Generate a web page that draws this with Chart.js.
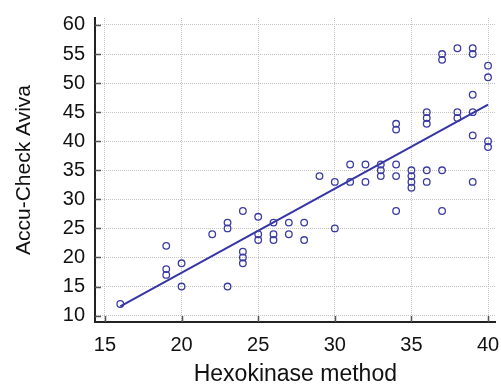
<!DOCTYPE html>
<html>
<head>
<meta charset="utf-8">
<script src="https://cdn.jsdelivr.net/npm/chart.js@4.4.0/dist/chart.umd.min.js"></script>
<style>
  html, body { margin: 0; padding: 0; background: #ffffff; }
  #wrap { width: 501px; height: 388px; position: relative; }
</style>
</head>
<body>
<div id="wrap"><canvas id="c" width="501" height="388"></canvas></div>
<script>
// Hexokinase method (x) vs Accu-Check Aviva (y)
const hexokinase = [
  16,
  19, 19, 19,
  20, 20,
  22,
  23, 23, 23,
  24, 24, 24, 24,
  25, 25, 25,
  26, 26, 26,
  27, 27,
  28, 28,
  29,
  30, 30,
  31, 31,
  32, 32,
  33, 33, 33,
  34, 34, 34, 34, 34,
  35, 35, 35, 35,
  36, 36, 36, 36, 36,
  37, 37, 37, 37,
  38, 38, 38,
  39, 39, 39, 39, 39, 39,
  40, 40, 40, 40
];
const accuCheck = [
  12,
  22, 18, 17,
  19, 15,
  24,
  26, 25, 15,
  28, 21, 20, 19,
  27, 24, 23,
  26, 24, 23,
  26, 24,
  26, 23,
  34,
  33, 25,
  36, 33,
  36, 33,
  36, 35, 34,
  43, 42, 36, 34, 28,
  35, 34, 33, 32,
  45, 44, 43, 35, 33,
  55, 54, 35, 28,
  56, 45, 44,
  56, 55, 48, 45, 41, 33,
  53, 51, 40, 39
];
// regression line end points
const fitX = [16, 40];
const fitY = [11.6, 46.3];

const xTicks = [15, 20, 25, 30, 35, 40];
const yTicks = [10, 15, 20, 25, 30, 35, 40, 45, 50, 55, 60];

const xTitle = 'Hexokinase method';
const yTitle = 'Accu-Check Aviva';

const pts = hexokinase.map((x, i) => ({ x: x, y: accuCheck[i] }));
const fit = fitX.map((x, i) => ({ x: x, y: fitY[i] }));

const FONT = "'Liberation Sans', Arial, sans-serif";

const inwardTicks = {
  id: 'inwardTicks',
  afterDatasetsDraw(chart) {
    const ctx = chart.ctx;
    const xs = chart.scales.x, ys = chart.scales.y;
    const a = chart.chartArea;
    ctx.save();
    ctx.strokeStyle = '#555555';
    ctx.lineWidth = 1.5;
    ctx.beginPath();
    xs.ticks.forEach(t => {
      const px = Math.round(xs.getPixelForValue(t.value)) + 0.5;
      ctx.moveTo(px, a.bottom);
      ctx.lineTo(px, a.bottom - 6);
    });
    ys.ticks.forEach(t => {
      const py = Math.round(ys.getPixelForValue(t.value)) + 0.5;
      ctx.moveTo(a.left, py);
      ctx.lineTo(a.left + 6, py);
    });
    ctx.stroke();
    ctx.restore();
  }
};

new Chart(document.getElementById('c'), {
  type: 'scatter',
  data: {
    datasets: [
      {
        label: 'data',
        data: pts,
        showLine: false,
        pointStyle: 'circle',
        pointRadius: 3.3,
        pointBorderWidth: 1.3,
        pointBorderColor: '#3b3ba4',
        pointBackgroundColor: 'rgba(0,0,0,0)',
        order: 1
      },
      {
        label: 'fit',
        data: fit,
        showLine: true,
        borderColor: '#3535a8',
        borderWidth: 2,
        pointRadius: 0,
        fill: false,
        order: 2
      }
    ]
  },
  options: {
    responsive: false,
    animation: false,
    devicePixelRatio: 1,
    layout: { padding: { top: 18, right: 4, left: 0, bottom: 0 } },
    plugins: {
      legend: { display: false },
      tooltip: { enabled: false }
    },
    scales: {
      x: {
        type: 'linear',
        min: 14.35,
        max: 40.5,
        afterBuildTicks: s => { s.ticks = xTicks.map(v => ({ value: v })); },
        afterFit: s => { s.height = 66; s.paddingLeft = 0; s.paddingRight = 0; },
        grid: { color: '#c4c4c4', lineWidth: 1, drawTicks: false },
        border: { display: true, color: '#222222', width: 2, dash: [1, 1] },
        ticks: {
          padding: 11,
          color: '#111111',
          font: { family: FONT, size: 20 },
          maxRotation: 0
        },
        title: {
          display: true,
          text: xTitle,
          color: '#111111',
          font: { family: FONT, size: 23 },
          padding: { top: 0, bottom: 0 }
        }
      },
      y: {
        type: 'linear',
        min: 8.9,
        max: 61.2,
        afterBuildTicks: s => { s.ticks = yTicks.map(v => ({ value: v })); },
        afterFit: s => { s.width = 95; s.paddingTop = 0; s.paddingBottom = 0; },
        grid: { color: '#c4c4c4', lineWidth: 1, drawTicks: false },
        border: { display: true, color: '#222222', width: 2, dash: [1, 1] },
        ticks: {
          padding: 10,
          color: '#111111',
          font: { family: FONT, size: 20 }
        },
        title: {
          display: true,
          text: yTitle,
          color: '#111111',
          font: { family: FONT, size: 21 },
          padding: { top: 12, bottom: 12 }
        }
      }
    }
  },
  plugins: [inwardTicks]
});
</script>
</body>
</html>
